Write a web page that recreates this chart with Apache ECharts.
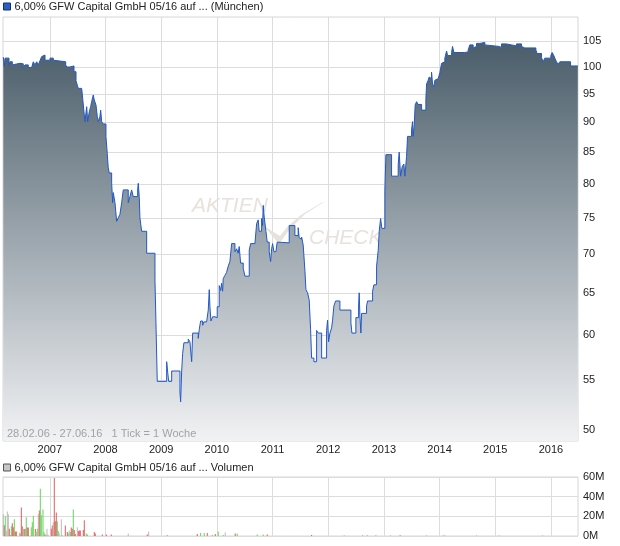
<!DOCTYPE html>
<html><head><meta charset="utf-8">
<script src="https://cdn.jsdelivr.net/npm/echarts@6/dist/echarts.min.js"></script>
<style>html,body{margin:0;padding:0;background:#fff}#c{width:620px;height:546px}</style>
</head><body><div id="c"></div>
<script>
const priceName = '6,00% GFW Capital GmbH 05/16 auf ... (München)';
const volumeName = '6,00% GFW Capital GmbH 05/16 auf ... Volumen';
const periodText = '28.02.06 - 27.06.16   1 Tick = 1 Woche';
const watermarkWords = ['AKTIEN', 'CHECK'];
const startYear = 2006.16, endYear = 2016.486;
const yearTicks = [2007, 2008, 2009, 2010, 2011, 2012, 2013, 2014, 2015, 2016];
const priceTicks = [50, 55, 60, 65, 70, 75, 80, 85, 90, 95, 100, 105];
const priceMin = 49, priceMax = 110;
const volumeMaxM = 60, volumeStepM = 20;

// weekly closing prices (decimal year, price)
const priceTime = [
2006.165,2006.183,2006.196,2006.268,2006.286,2006.327,2006.357,2006.465,2006.524,2006.555,
2006.614,2006.675,2006.704,2006.734,2006.765,2006.794,2006.824,2006.855,2006.883,2006.914,
2007.004,2007.063,2007.094,2007.286,2007.304,2007.363,2007.435,2007.471,2007.494,2007.512,
2007.573,2007.591,2007.614,2007.632,2007.663,2007.681,2007.709,2007.734,2007.752,2007.781,
2007.799,2007.830,2007.853,2007.871,2007.901,2007.914,2007.932,2007.961,2008.009,2008.032,
2008.050,2008.068,2008.111,2008.129,2008.140,2008.171,2008.201,2008.230,2008.260,2008.291,
2008.320,2008.409,2008.440,2008.470,2008.499,2008.578,2008.589,2008.607,2008.619,2008.650,
2008.740,2008.889,2008.907,2008.930,2009.099,2009.117,2009.135,2009.189,2009.338,2009.350,
2009.368,2009.386,2009.409,2009.487,2009.517,2009.548,2009.566,2009.666,2009.684,2009.709,
2009.745,2009.768,2009.817,2009.846,2009.864,2009.876,2009.894,2009.925,2009.966,2010.007,
2010.043,2010.068,2010.086,2010.104,2010.115,2010.145,2010.176,2010.205,2010.235,2010.266,
2010.325,2010.356,2010.384,2010.402,2010.427,2010.474,2010.505,2010.582,2010.607,2010.684,
2010.715,2010.743,2010.761,2010.804,2010.822,2010.833,2010.851,2010.882,2010.905,2010.941,
2010.966,2010.984,2011.002,2011.025,2011.061,2011.084,2011.102,2011.300,2011.402,2011.461,
2011.479,2011.492,2011.522,2011.551,2011.582,2011.600,2011.630,2011.659,2011.684,2011.702,
2011.743,2011.792,2011.820,2011.882,2011.971,2011.989,2012.007,2012.031,2012.061,2012.079,
2012.102,2012.133,2012.210,2012.408,2012.426,2012.497,2012.546,2012.557,2012.569,2012.587,
2012.600,2012.689,2012.707,2012.797,2012.820,2012.869,2012.898,2012.916,2012.941,2012.964,
2013.018,2013.036,2013.138,2013.257,2013.275,2013.300,2013.329,2013.359,2013.377,2013.407,
2013.425,2013.497,2013.515,2013.526,2013.544,2013.562,2013.587,2013.616,2013.677,2013.754,
2013.767,2013.795,2013.813,2013.838,2013.856,2013.874,2013.898,2013.916,2013.946,2013.975,
2014.005,2014.036,2014.065,2014.095,2014.126,2014.144,2014.216,2014.233,2014.257,2014.442,
2014.472,2014.513,2014.544,2014.603,2014.634,2014.664,2014.724,2014.813,2014.844,2015.070,
2015.095,2015.113,2015.203,2015.293,2015.382,2015.472,2015.501,2015.531,2015.562,2015.729,
2015.752,2015.831,2015.860,2015.890,2015.998,2016.022,2016.052,2016.070,2016.100,2016.129,
2016.160,2016.352,2016.483
];
const priceValue = [
101.9,100.1,101.7,100.4,101.0,100.4,100.7,100.6,99.9,100.4,
99.9,100.2,101.0,100.4,101.0,100.4,101.2,102.0,102.3,101.3,
101.7,101.3,101.0,100.4,100.0,100.2,99.1,97.4,96.6,96.0,
96.3,94.2,91.8,90.1,92.7,90.1,91.8,92.7,93.6,94.8,
93.9,93.0,91.0,90.1,91.0,92.1,90.1,89.7,87.6,84.8,
82.5,81.7,80.2,77.2,78.7,77.2,74.5,75.0,75.5,77.2,
79.1,77.2,78.1,79.1,78.1,79.1,80.1,78.1,75.0,73.1,
70.1,66.6,61.4,54.9,57.0,55.9,54.9,56.0,53.8,52.8,
55.9,57.9,59.1,59.5,59.2,57.0,60.2,59.6,60.6,61.6,
61.1,61.5,61.4,62.9,65.4,63.3,61.6,62.1,62.0,63.3,
65.9,65.3,66.2,65.2,66.8,67.2,67.6,68.4,69.0,71.4,
70.3,70.7,70.1,71.0,68.8,68.1,67.1,70.5,71.4,71.6,
74.2,74.7,73.1,74.9,73.9,76.8,75.1,73.1,71.6,70.3,
69.0,70.7,71.4,70.3,70.1,71.6,71.5,73.9,72.5,73.6,
72.2,72.0,72.3,71.2,67.8,65.4,65.0,64.1,60.6,57.4,
57.0,60.5,60.2,57.4,60.5,61.7,59.2,60.2,60.8,61.7,
63.4,64.0,62.9,61.4,60.2,62.0,63.4,65.0,62.3,60.2,
62.5,63.4,64.0,65.2,66.0,68.4,70.5,73.1,74.9,73.5,
78.9,84.6,81.2,83.0,85.0,81.2,82.7,83.1,81.2,84.3,
87.6,88.7,90.1,87.6,89.5,93.0,93.6,93.1,92.1,94.1,
96.8,97.5,98.1,97.8,99.0,96.8,96.3,97.5,97.8,97.5,
98.9,100.7,101.0,101.7,103.1,102.2,102.8,104.0,102.8,103.1,
102.9,103.3,104.3,103.7,104.0,104.6,104.8,104.3,104.0,104.1,
103.8,104.5,104.3,104.1,104.5,104.0,103.7,104.0,103.7,103.3,
102.6,101.8,101.0,101.7,102.2,102.8,102.2,101.7,101.0,100.5,
101.0,100.2,100.2
];

// weekly volume (decimal year, millions, direction: u = up, d = down, n = unchanged)
const volTime = [
2006.165,2006.183,2006.201,2006.219,2006.237,2006.255,2006.273,2006.291,2006.309,2006.327,
2006.345,2006.363,2006.381,2006.399,2006.453,2006.471,2006.489,2006.506,2006.524,2006.542,
2006.560,2006.578,2006.596,2006.614,2006.668,2006.686,2006.704,2006.740,2006.758,2006.776,
2006.794,2006.812,2006.830,2006.848,2006.878,2006.896,2006.914,2006.932,2006.950,2006.968,
2007.027,2007.045,2007.063,2007.081,2007.099,2007.117,2007.135,2007.153,2007.171,2007.207,
2007.225,2007.279,2007.315,2007.332,2007.350,2007.368,2007.386,2007.404,2007.422,2007.440,
2007.458,2007.494,2007.512,2007.530,2007.548,2007.602,2007.620,2007.656,2007.674,2007.799,
2007.817,2007.943,2008.015,2008.104,2008.409,2008.750,2008.776,2009.110,2009.649,2009.709,
2009.774,2009.828,2009.918,2009.971,2010.025,2010.115,2010.151,2010.330,2010.366,2010.725,
2010.833,2010.905,2011.702,2012.287,2012.618,2012.700,2012.856,2013.120,2013.292,2013.767,
2014.065,2014.095,2014.664,2015.070,2015.849
];
const volValue = [
22,11,20,5,25,22,7.5,1,10,13,
9,17,4.5,4.5,3.5,2.5,29,10,7.5,7,
7.5,19,8.6,8.6,9,14,20.7,7,4,7.5,
22,26,48,21,27,4,1.5,1.5,7.5,1.5,
7.5,10.7,14,59,15,24,15,5,2.5,17,
1,10.7,4,2.5,5.5,4,8.6,7.5,27,6,
2,9,5,5.5,5.5,6,16,2.5,1.5,4,
2.5,1.5,1.5,1.5,2.5,1.5,4.5,1,2,3,
3,3,1,2,4.5,1,3.5,2.5,2.5,1.5,
1.5,1.5,1,0.8,0.8,0.8,0.8,0.8,0.8,0.5,
0.5,0.5,0.5,0.5,0.5
];
const volDir = [
'n','d','u','n','n','n','d','u','u','d',
'd','u','d','d','n','u','d','d','n','d',
'u','u','d','d','u','u','u','d','n','u',
'n','d','u','u','u','u','d','n','n','n',
'd','d','n','d','d','d','u','u','n','n',
'n','d','d','u','n','u','d','d','u','d',
'd','n','d','d','d','d','d','u','u','d',
'd','d','d','d','n','d','n','u','d','u',
'u','d','u','d','u','u','n','d','u','u',
'u','d','d','n','u','u','u','n','d','u',
'u','u','u','u','u'
];

const FONT = "'Liberation Sans', Arial, sans-serif";
const dirColor = { u: '#62d65a', d: '#e05c5c', n: '#b9b9b9' };
const chart = echarts.init(document.getElementById('c'), null, { renderer: 'canvas' });

const gridLine = { show: true, lineStyle: { color: '#dcdcdc', width: 1 } };
const wmColor = '#e7e2db';

chart.setOption({
  animation: false,
  textStyle: { fontFamily: FONT },
  legend: [
    {
      data: [{ name: priceName, itemStyle: { color: '#2a5fc4', borderColor: '#1b2f5e', borderWidth: 1 } }],
      left: 3, top: 1, padding: 0, icon: 'rect', itemWidth: 7, itemHeight: 7, itemGap: 4,
      selectedMode: false,
      textStyle: { fontSize: 11, color: '#222', fontFamily: FONT, padding: [0, 0, 0, -1] }
    },
    {
      data: [{ name: volumeName, itemStyle: { color: '#c6c6c6', borderColor: '#555', borderWidth: 1 } }],
      left: 3, top: 462, padding: 0, icon: 'rect', itemWidth: 7, itemHeight: 7, itemGap: 4,
      selectedMode: false,
      textStyle: { fontSize: 11, color: '#222', fontFamily: FONT, padding: [0, 0, 0, -1] }
    }
  ],
  grid: [
    { left: 3, top: 17, right: 42, bottom: 105, show: true, borderColor: '#d6d6d6', borderWidth: 1 },
    { left: 3, top: 477, right: 42, bottom: 10, show: true, borderColor: '#d6d6d6', borderWidth: 1 }
  ],
  xAxis: [
    {
      type: 'value', gridIndex: 0, min: startYear, max: endYear,
      axisLine: { show: false },
      axisTick: { show: false, customValues: yearTicks },
      axisLabel: { customValues: yearTicks, formatter: v => String(v), color: '#222', fontSize: 11, margin: 3, fontFamily: FONT },
      splitLine: gridLine
    },
    {
      type: 'value', gridIndex: 1, min: startYear, max: endYear,
      axisLine: { show: false },
      axisTick: { show: false, customValues: yearTicks },
      axisLabel: { show: false, customValues: yearTicks },
      splitLine: gridLine
    }
  ],
  yAxis: [
    {
      type: 'log', gridIndex: 0, position: 'right', min: priceMin, max: priceMax, logBase: 10,
      axisLine: { show: false },
      axisTick: { show: false, customValues: priceTicks },
      axisLabel: { customValues: priceTicks, formatter: v => String(v), color: '#222', fontSize: 11, margin: 5, fontFamily: FONT },
      splitLine: gridLine
    },
    {
      type: 'value', gridIndex: 1, position: 'right', min: 0, max: volumeMaxM, interval: volumeStepM,
      axisLine: { show: false }, axisTick: { show: false },
      axisLabel: { formatter: '{value}M', color: '#222', fontSize: 11, margin: 5, fontFamily: FONT },
      splitLine: gridLine
    }
  ],
  graphic: [
    { type: 'text', left: 7, top: 428, z: 5, style: { text: periodText, fill: '#a3a3a3', font: '11px ' + FONT } },
    { type: 'text', left: 192, top: 196, z: 1, style: { text: watermarkWords[0], fill: wmColor, font: 'italic 21px ' + FONT } },
    { type: 'text', left: 309, top: 228, z: 1, style: { text: watermarkWords[1], fill: wmColor, font: 'italic 21px ' + FONT } },
    { type: 'polygon', z: 1, shape: { points: [[264,226],[279,244],[290,229],[305,214],[324,202],[343,195],[321,203],[301,215],[288,226],[280,236]] }, style: { fill: wmColor } }
  ],
  series: [
    {
      type: 'line', name: priceName, xAxisIndex: 0, yAxisIndex: 0,
      data: priceTime.map((t, i) => [t, priceValue[i]]),
      step: 'end', showSymbol: false, symbol: 'none', z: 3,
      lineStyle: { color: '#2258c4', width: 1 },
      itemStyle: { color: '#2258c4' },
      areaStyle: {
        origin: 'start', opacity: 1,
        color: new echarts.graphic.LinearGradient(0, 0, 0, 1, [
          { offset: 0, color: '#4a5d6a' },
          { offset: 1, color: '#f1f2f4' }
        ])
      }
    },
    {
      type: 'bar', name: volumeName, xAxisIndex: 1, yAxisIndex: 1,
      data: volTime.map((t, i) => [t, volValue[i]]),
      barWidth: 1, z: 3,
      itemStyle: { color: p => dirColor[volDir[p.dataIndex]] }
    }
  ]
});
</script>
</body></html>
